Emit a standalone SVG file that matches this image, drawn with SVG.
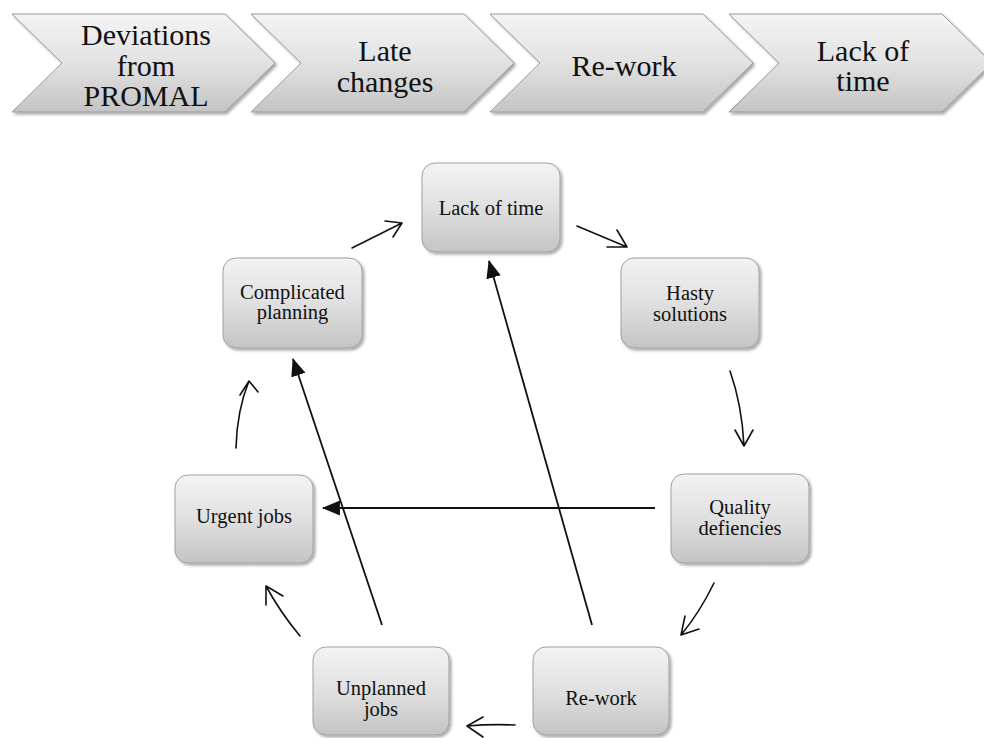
<svg xmlns="http://www.w3.org/2000/svg" width="984" height="738" viewBox="0 0 984 738">
  <defs>
    <linearGradient id="chevFill" x1="0" y1="0" x2="0" y2="1">
      <stop offset="0" stop-color="#f4f4f4"/>
      <stop offset="0.5" stop-color="#e2e2e2"/>
      <stop offset="1" stop-color="#c4c4c4"/>
    </linearGradient>
    <linearGradient id="boxFill" x1="0" y1="0" x2="0" y2="1">
      <stop offset="0" stop-color="#f3f3f3"/>
      <stop offset="0.5" stop-color="#e0e0e0"/>
      <stop offset="1" stop-color="#c4c4c4"/>
    </linearGradient>
    <filter id="shadow" x="-10%" y="-10%" width="125%" height="130%">
      <feGaussianBlur in="SourceAlpha" stdDeviation="1.6"/>
      <feOffset dx="1.5" dy="2" result="blur"/>
      <feComponentTransfer><feFuncA type="linear" slope="0.35"/></feComponentTransfer>
      <feMerge><feMergeNode/><feMergeNode in="SourceGraphic"/></feMerge>
    </filter>
    <marker id="solidHead" markerUnits="userSpaceOnUse" markerWidth="18" markerHeight="16" viewBox="0 0 17 14" refX="16" refY="7" orient="auto">
      <path d="M0,0 L17,7 L0,14 Z" fill="#111"/>
    </marker>
  </defs>
  <style>
    .chev { fill: url(#chevFill); stroke: #9a9a9a; stroke-width: 1; filter: url(#shadow); }
    .box { fill: url(#boxFill); stroke: #a0a0a0; stroke-width: 1; filter: url(#shadow); }
    .ct { font-family: 'Liberation Serif', 'DejaVu Serif', serif; font-size: 30px; fill: #111; text-anchor: middle; }
    .bt { font-family: 'Liberation Serif', 'DejaVu Serif', serif; font-size: 20.5px; fill: #111; text-anchor: middle; }
    .cyc { fill: none; stroke: #111; stroke-width: 1.6; stroke-linecap: round; stroke-linejoin: round; }
    .straight { fill: none; stroke: #111; stroke-width: 1.8; marker-end: url(#solidHead); }
  </style>

  <!-- process chevrons -->
  <g id="chev-deviations">
    <polygon class="chev" points="12,14 225,14 275,63 225,112 12,112 62,63"/>
    <text class="ct" x="146" y="45">Deviations</text>
    <text class="ct" x="146" y="75.5">from</text>
    <text class="ct" x="146" y="106">PROMAL</text>
  </g>
  <g id="chev-late-changes">
    <polygon class="chev" points="251,14 464,14 514,63 464,112 251,112 301,63"/>
    <text class="ct" x="385" y="61">Late</text>
    <text class="ct" x="385" y="91.5">changes</text>
  </g>
  <g id="chev-rework">
    <polygon class="chev" points="490,14 703,14 753,63 703,112 490,112 540,63"/>
    <text class="ct" x="624" y="76">Re-work</text>
  </g>
  <g id="chev-lack-of-time">
    <polygon class="chev" points="729,14 942,14 992,63 942,112 729,112 779,63"/>
    <text class="ct" x="863" y="60.5">Lack of</text>
    <text class="ct" x="863" y="91">time</text>
  </g>

  <!-- cycle nodes -->
  <g id="node-lack-of-time">
    <rect class="box" x="422" y="163" width="138" height="89" rx="13"/>
    <text class="bt" x="491" y="215">Lack of time</text>
  </g>
  <g id="node-hasty-solutions">
    <rect class="box" x="621" y="258" width="138" height="90" rx="13"/>
    <text class="bt" x="690" y="300">Hasty</text>
    <text class="bt" x="690" y="320.5">solutions</text>
  </g>
  <g id="node-quality-defiencies">
    <rect class="box" x="671" y="474" width="138" height="89" rx="13"/>
    <text class="bt" x="740" y="514">Quality</text>
    <text class="bt" x="740" y="534.5">defiencies</text>
  </g>
  <g id="node-rework">
    <rect class="box" x="533" y="647" width="136" height="88" rx="13"/>
    <text class="bt" x="601" y="705">Re-work</text>
  </g>
  <g id="node-unplanned-jobs">
    <rect class="box" x="313" y="647" width="136" height="88" rx="13"/>
    <text class="bt" x="381" y="695">Unplanned</text>
    <text class="bt" x="381" y="716">jobs</text>
  </g>
  <g id="node-urgent-jobs">
    <rect class="box" x="175" y="475" width="138" height="88" rx="13"/>
    <text class="bt" x="244" y="523">Urgent jobs</text>
  </g>
  <g id="node-complicated-planning">
    <rect class="box" x="223" y="258" width="139" height="90" rx="13"/>
    <text class="bt" x="292.5" y="298.5">Complicated</text>
    <text class="bt" x="292.5" y="319">planning</text>
  </g>

  <!-- connectors -->
  <g id="connectors">
    <!-- cycle arrows with open heads -->
    <path class="cyc" d="M352,248 L402,223 M385,221 L402,223 L393,237"/>
    <path class="cyc" d="M577,226 L627,247 M607,247 L627,247 L617,230"/>
    <path class="cyc" d="M730,371 Q742,405 744,446 M735,430 L744,446 L753,430"/>
    <path class="cyc" d="M714,583 Q700,612 681,635 M685,616 L681,635 L699,629"/>
    <path class="cyc" d="M515,725 Q490,724 467,726 M483,717 L467,726 L483,737"/>
    <path class="cyc" d="M300,636 Q280,612 266,586 M266,605 L266,586 L283,596"/>
    <path class="cyc" d="M236,448 Q237,410 249,381 M240,395 L249,381 L258,392"/>
    <!-- straight arrows with solid heads -->
    <path class="straight" d="M655,508 L323,508"/>
    <path class="straight" d="M592,625 L489,261"/>
    <path class="straight" d="M382,625 L293,359"/>
  </g>
</svg>
